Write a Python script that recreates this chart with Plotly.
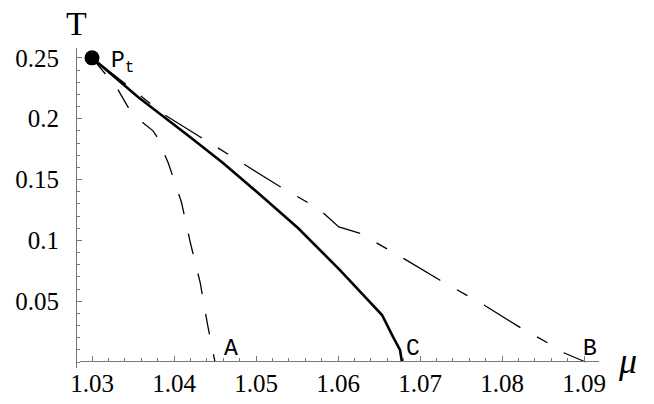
import plotly.graph_objects as go

# phase boundary lines, T vs mu
MU_C = [1.0300, 1.03561, 1.04195, 1.04598, 1.05012, 1.05512, 1.06024, 1.06488, 1.06537, 1.06671, 1.06756, 1.06780]
T_C = [0.250, 0.2178, 0.1850, 0.1636, 0.1397, 0.1101, 0.0756, 0.0427, 0.0386, 0.0206, 0.0099, 0.0]

MU_A = [1.0300, 1.03305, 1.03439, 1.0361, 1.03744, 1.03793, 1.0393, 1.0409, 1.0420, 1.0432, 1.0441, 1.0450]
T_A = [0.250, 0.2252, 0.2096, 0.1973, 0.190, 0.185, 0.1636, 0.1315, 0.0978, 0.065, 0.0304, 0.0]

MU_B = [1.0300, 1.0389, 1.0432, 1.0484, 1.0528, 1.0562, 1.0582, 1.0601, 1.0626, 1.0679, 1.0724, 1.0778,
        1.0823, 1.0856, 1.0876, 1.0902]
T_B = [0.250, 0.203, 0.185, 0.1628, 0.1447, 0.1315, 0.1225, 0.111, 0.106, 0.0855, 0.0674, 0.0469,
       0.028, 0.0156, 0.0074, 0.0]

PT = (1.0300, 0.250)

X_TICKS = [1.03, 1.04, 1.05, 1.06, 1.07, 1.08, 1.09]
Y_TICKS = [0.05, 0.1, 0.15, 0.2, 0.25]
Y_TICK_TEXT = ["0.05", "0.1", "0.15", "0.2", "0.25"]

# labels: (text, mu, T)
LABELS = [("A", 1.0458, 0.0109), ("C", 1.0681, 0.0109), ("B", 1.0896, 0.0104)]

SERIF = "Liberation Serif, Times New Roman, Times, serif"
MONO = "Liberation Mono, Courier New, Courier, monospace"
AXIS_GREY = "#777777"

# the page body keeps its 8px margin, so the figure is 8px smaller than the window
FIG_W, FIG_H = 646, 396

fig = go.Figure()
fig.add_trace(go.Scatter(x=MU_A, y=T_A, mode="lines",
                         line={"color": "black", "width": 1.3, "dash": "21px,20px"}))
fig.add_trace(go.Scatter(x=MU_B, y=T_B, mode="lines",
                         line={"color": "black", "width": 1.3, "dash": "43px,19px,12px,19px"}))
fig.add_trace(go.Scatter(x=MU_C, y=T_C, mode="lines", line={"color": "black", "width": 2.6}))
fig.add_trace(go.Scatter(x=[PT[0]], y=[PT[1]], mode="markers",
                         marker={"color": "black", "size": 15, "line": {"width": 0}}))

for text, mu, t in LABELS:
    fig.add_annotation(x=mu, y=t, text=text, showarrow=False, xanchor="left", yanchor="middle",
                       font={"family": MONO, "size": 23, "color": "black"})

fig.add_annotation(x=1.0321, y=0.2460, text="P<sub>t</sub>", showarrow=False, xanchor="left",
                   yanchor="middle", font={"family": MONO, "size": 23, "color": "black"})

# axis titles placed like Mathematica's AxesLabel
fig.add_annotation(xref="paper", yref="paper", x=0.0, y=1.14, text="T", showarrow=False,
                   xanchor="center", yanchor="top", font={"family": SERIF, "size": 34, "color": "black"})
fig.add_annotation(xref="paper", yref="paper", x=1.0, xshift=28, y=0.0, yshift=7, text="<i>μ</i>",
                   showarrow=False, xanchor="center", yanchor="middle",
                   font={"family": SERIF, "size": 36, "color": "black"})

tick_font = {"family": SERIF, "size": 25, "color": "black"}

fig.update_xaxes(
    range=[1.028537, 1.091829], domain=[0.0077, 1.0], anchor="free", position=0.022,
    tickvals=X_TICKS, tickformat=".2f", tickfont=tick_font,
    ticks="inside", ticklen=5, tickwidth=1, tickcolor=AXIS_GREY,
    minor={"dtick": 0.002, "tick0": 1.03, "ticks": "inside", "ticklen": 3, "tickcolor": AXIS_GREY},
    showline=True, linecolor=AXIS_GREY, linewidth=1, showgrid=False, zeroline=False,
    ticklabelstandoff=0, automargin=False,
)
fig.update_yaxes(
    range=[-0.00493, 0.2581], anchor="free", position=0.0,
    tickvals=Y_TICKS, ticktext=Y_TICK_TEXT, tickfont=tick_font,
    ticks="inside", ticklen=5, tickwidth=1, tickcolor=AXIS_GREY,
    minor={"dtick": 0.01, "tick0": 0.0, "ticks": "inside", "ticklen": 3, "tickcolor": AXIS_GREY},
    showline=True, linecolor=AXIS_GREY, linewidth=1, showgrid=False, zeroline=False,
    ticklabelstandoff=12, automargin=False,
)

fig.update_layout(
    width=FIG_W, height=FIG_H,
    margin={"l": 68, "r": 55, "t": 40, "b": 36},
    paper_bgcolor="white", plot_bgcolor="white",
    showlegend=False,
)

fig.write_html("out.html")
